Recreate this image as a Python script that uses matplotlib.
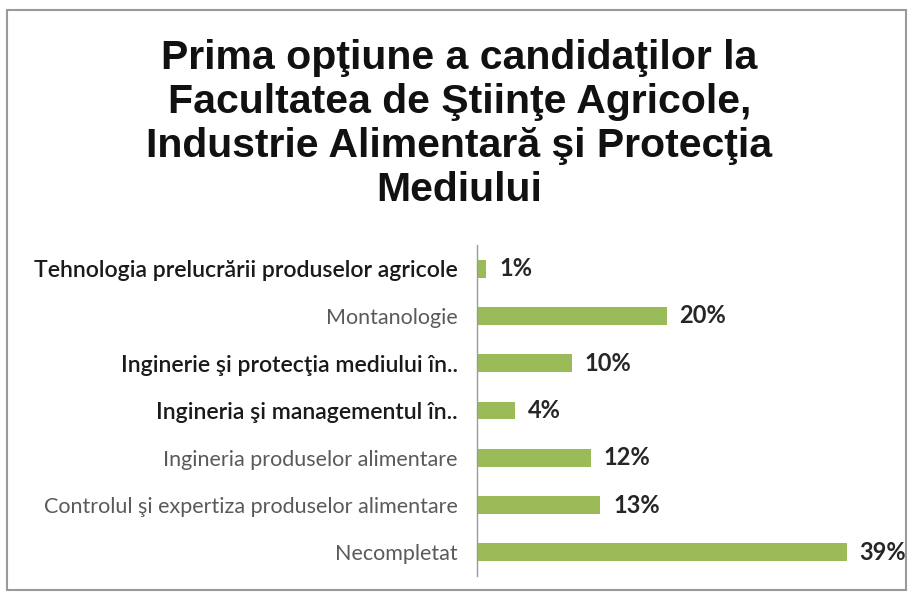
import matplotlib.pyplot as plt
from matplotlib.patches import Rectangle

# data, top to bottom as shown
categories = [
    "Tehnologia prelucrării produselor agricole",
    "Montanologie",
    "Inginerie şi protecţia mediului în..",
    "Ingineria şi managementul în..",
    "Ingineria produselor alimentare",
    "Controlul şi expertiza produselor alimentare",
    "Necompletat",
]
values = [1, 20, 10, 4, 12, 13, 39]
value_labels = ["1%", "20%", "10%", "4%", "12%", "13%", "39%"]
dark_labels = [True, False, True, True, False, False, False]

title = ("Prima opţiune a candidaţilor la\nFacultatea de Ştiinţe Agricole,\n"
         "Industrie Alimentară şi Protecţia\nMediului")

fig = plt.figure(figsize=(9.1, 5.93), dpi=100)
W, H = 910, 593

# outer frame
fig.patches.append(Rectangle((7 / W, 1 - 590 / H), 899 / W, 580 / H,
                             transform=fig.transFigure, fill=False,
                             edgecolor='#9a9a9a', linewidth=1.5))

fig.text(0.505, 1 - 124 / H, title, ha='center', va='center',
         fontsize=29.5, fontweight='bold', family='Liberation Sans',
         color='#111111', linespacing=1.19)

ax = fig.add_axes([477 / W, 1 - 576 / H, 425 / W, 331 / H])
ypos = list(range(len(categories)))[::-1]
ax.barh(ypos, values, height=0.38, color='#9bbb59')
ax.set_xlim(0, 425 / 9.48)
ax.set_ylim(-0.5, 6.5)

for y, v, lab in zip(ypos, values, value_labels):
    ax.text(v + 1.35, y, lab, va='center', ha='left', fontsize=17,
            fontweight='bold', family='Lato', color='#262626')

ax.set_yticks(ypos)
ax.set_yticklabels(categories)
for t, dark in zip(ax.get_yticklabels(), dark_labels):
    t.set_family('Lato')
    t.set_fontsize(16.6 if dark else 15.5)
    t.set_color('#1a1a1a' if dark else '#5a5a5a')
    if dark:
        t.set_fontweight('semibold')
ax.tick_params(axis='y', length=0, pad=14)
ax.set_xticks([])
for s in ['top', 'right', 'bottom']:
    ax.spines[s].set_visible(False)
ax.spines['left'].set_color('#9a9a9a')
ax.spines['left'].set_linewidth(1)

fig.savefig('out.png', dpi=100)
